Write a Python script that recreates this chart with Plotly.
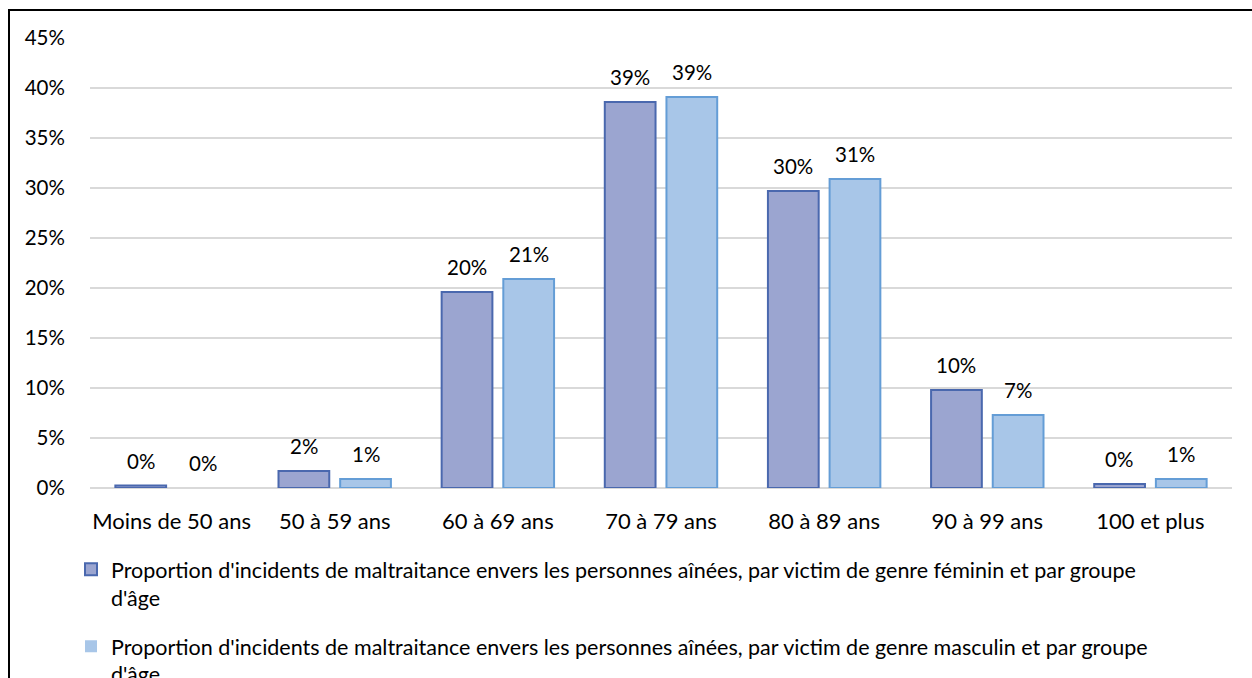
import plotly.graph_objects as go

categories = ["Moins de 50 ans", "50 à 59 ans", "60 à 69 ans", "70 à 79 ans",
              "80 à 89 ans", "90 à 99 ans", "100 et plus"]
female = [0.0025, 0.017, 0.196, 0.386, 0.297, 0.098, 0.004]
male = [0.0, 0.009, 0.209, 0.391, 0.309, 0.073, 0.009]
name_f = "Proportion d'incidents de maltraitance envers les personnes aînées, par victim de genre féminin et par groupe<br>d'âge"
name_m = "Proportion d'incidents de maltraitance envers les personnes aînées, par victim de genre masculin et par groupe<br>d'âge"

FONT = "Lato"
fig = go.Figure()
fig.add_trace(go.Bar(
    x=categories, y=female, name=name_f, legendgroup="f",
    marker=dict(color="#9ba5d0",
                line=dict(color="#4a68ae", width=[0 if v == 0 else 2 for v in female])),
    hoverinfo="skip",
))
fig.add_trace(go.Bar(
    x=categories, y=male, name=name_m, legendgroup="m",
    marker=dict(color="#a8c6e8",
                line=dict(color="#649dd6", width=[0 if v == 0 else 2 for v in male])),
    hoverinfo="skip",
))

annotations = []
for vals, dx in ((female, -31), (male, 31)):
    for c, v in zip(categories, vals):
        annotations.append(dict(
            x=c, y=v, xref="x", yref="y", text=f"{round(v * 100):.0f}%",
            showarrow=False, xshift=dx, yshift=25, yanchor="middle",
            font=dict(size=20.5, family=FONT, color="#000000"),
        ))

fig.update_layout(
    width=1252, height=678,
    margin=dict(l=90, r=20, t=38, b=190, autoexpand=False),
    paper_bgcolor="white", plot_bgcolor="white",
    font=dict(family=FONT, size=22, color="#000000"),
    barmode="group", bargap=0.244, bargroupgap=0.177,
    showlegend=True,
    legend=dict(x=-19 / 1142, xanchor="left", y=-0.135, yanchor="top",
                orientation="v", font=dict(size=21.5, family=FONT),
                traceorder="grouped", tracegroupgap=18, itemwidth=30,
                valign="top"),
    annotations=annotations,
    xaxis=dict(showgrid=False, showline=False, ticks="outside", ticklen=14,
               tickcolor="rgba(0,0,0,0)", tickfont=dict(size=22)),
    yaxis=dict(range=[0, 0.45], dtick=0.05, tickformat=".0%",
               showgrid=True, gridcolor="#d9d9d9", gridwidth=2,
               zeroline=True, zerolinecolor="#d9d9d9", zerolinewidth=2,
               ticks="outside", ticklen=20, tickcolor="rgba(0,0,0,0)",
               tickfont=dict(size=20.5)),
    shapes=[dict(type="rect", xref="paper", yref="paper",
                 x0=(9 - 90) / 1142, x1=(1300 - 90) / 1142,
                 y0=(488 - 760) / 450, y1=(488 - 10) / 450,
                 line=dict(color="black", width=2), fillcolor="rgba(0,0,0,0)",
                 layer="above")],
)
fig.write_html("out.html")
